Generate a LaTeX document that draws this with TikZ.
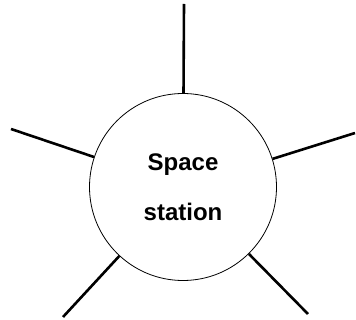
\documentclass[tikz,border=0pt]{standalone}
\usepackage{fontspec}
\setmainfont{Liberation Sans}
\usepackage{tikz}
\usetikzlibrary{positioning,calc}
\tikzset{
  hullbody/.style={circle, draw=black, line width=0.8pt, fill=white,
    minimum size=187pt, inner sep=0pt, align=center,
    font=\bfseries\fontsize{24}{29}\selectfont},
  mastln/.style={line width=2.6pt, black},
}

\begin{document}
\begin{tikzpicture}[x=1pt, y=-1pt]
    \useasboundingbox (0,0) rectangle (356,320);
    % the station body
    \node[hullbody] (station) at (183,187) {Space\\[21pt]station};
    % free ends of the masts
    \coordinate (mastN) at (184,4);
    \coordinate (mastW) at (11,129);
    \coordinate (mastE) at (355,133);
    \coordinate (mastSW) at (63,317);
    \coordinate (mastSE) at (308,314);
    % masts from the hull outwards
    \foreach \m in {mastN,mastW,mastE,mastSW,mastSE}
      \draw[mastln] (station) -- (\m);
  \end{tikzpicture}
\end{document}
